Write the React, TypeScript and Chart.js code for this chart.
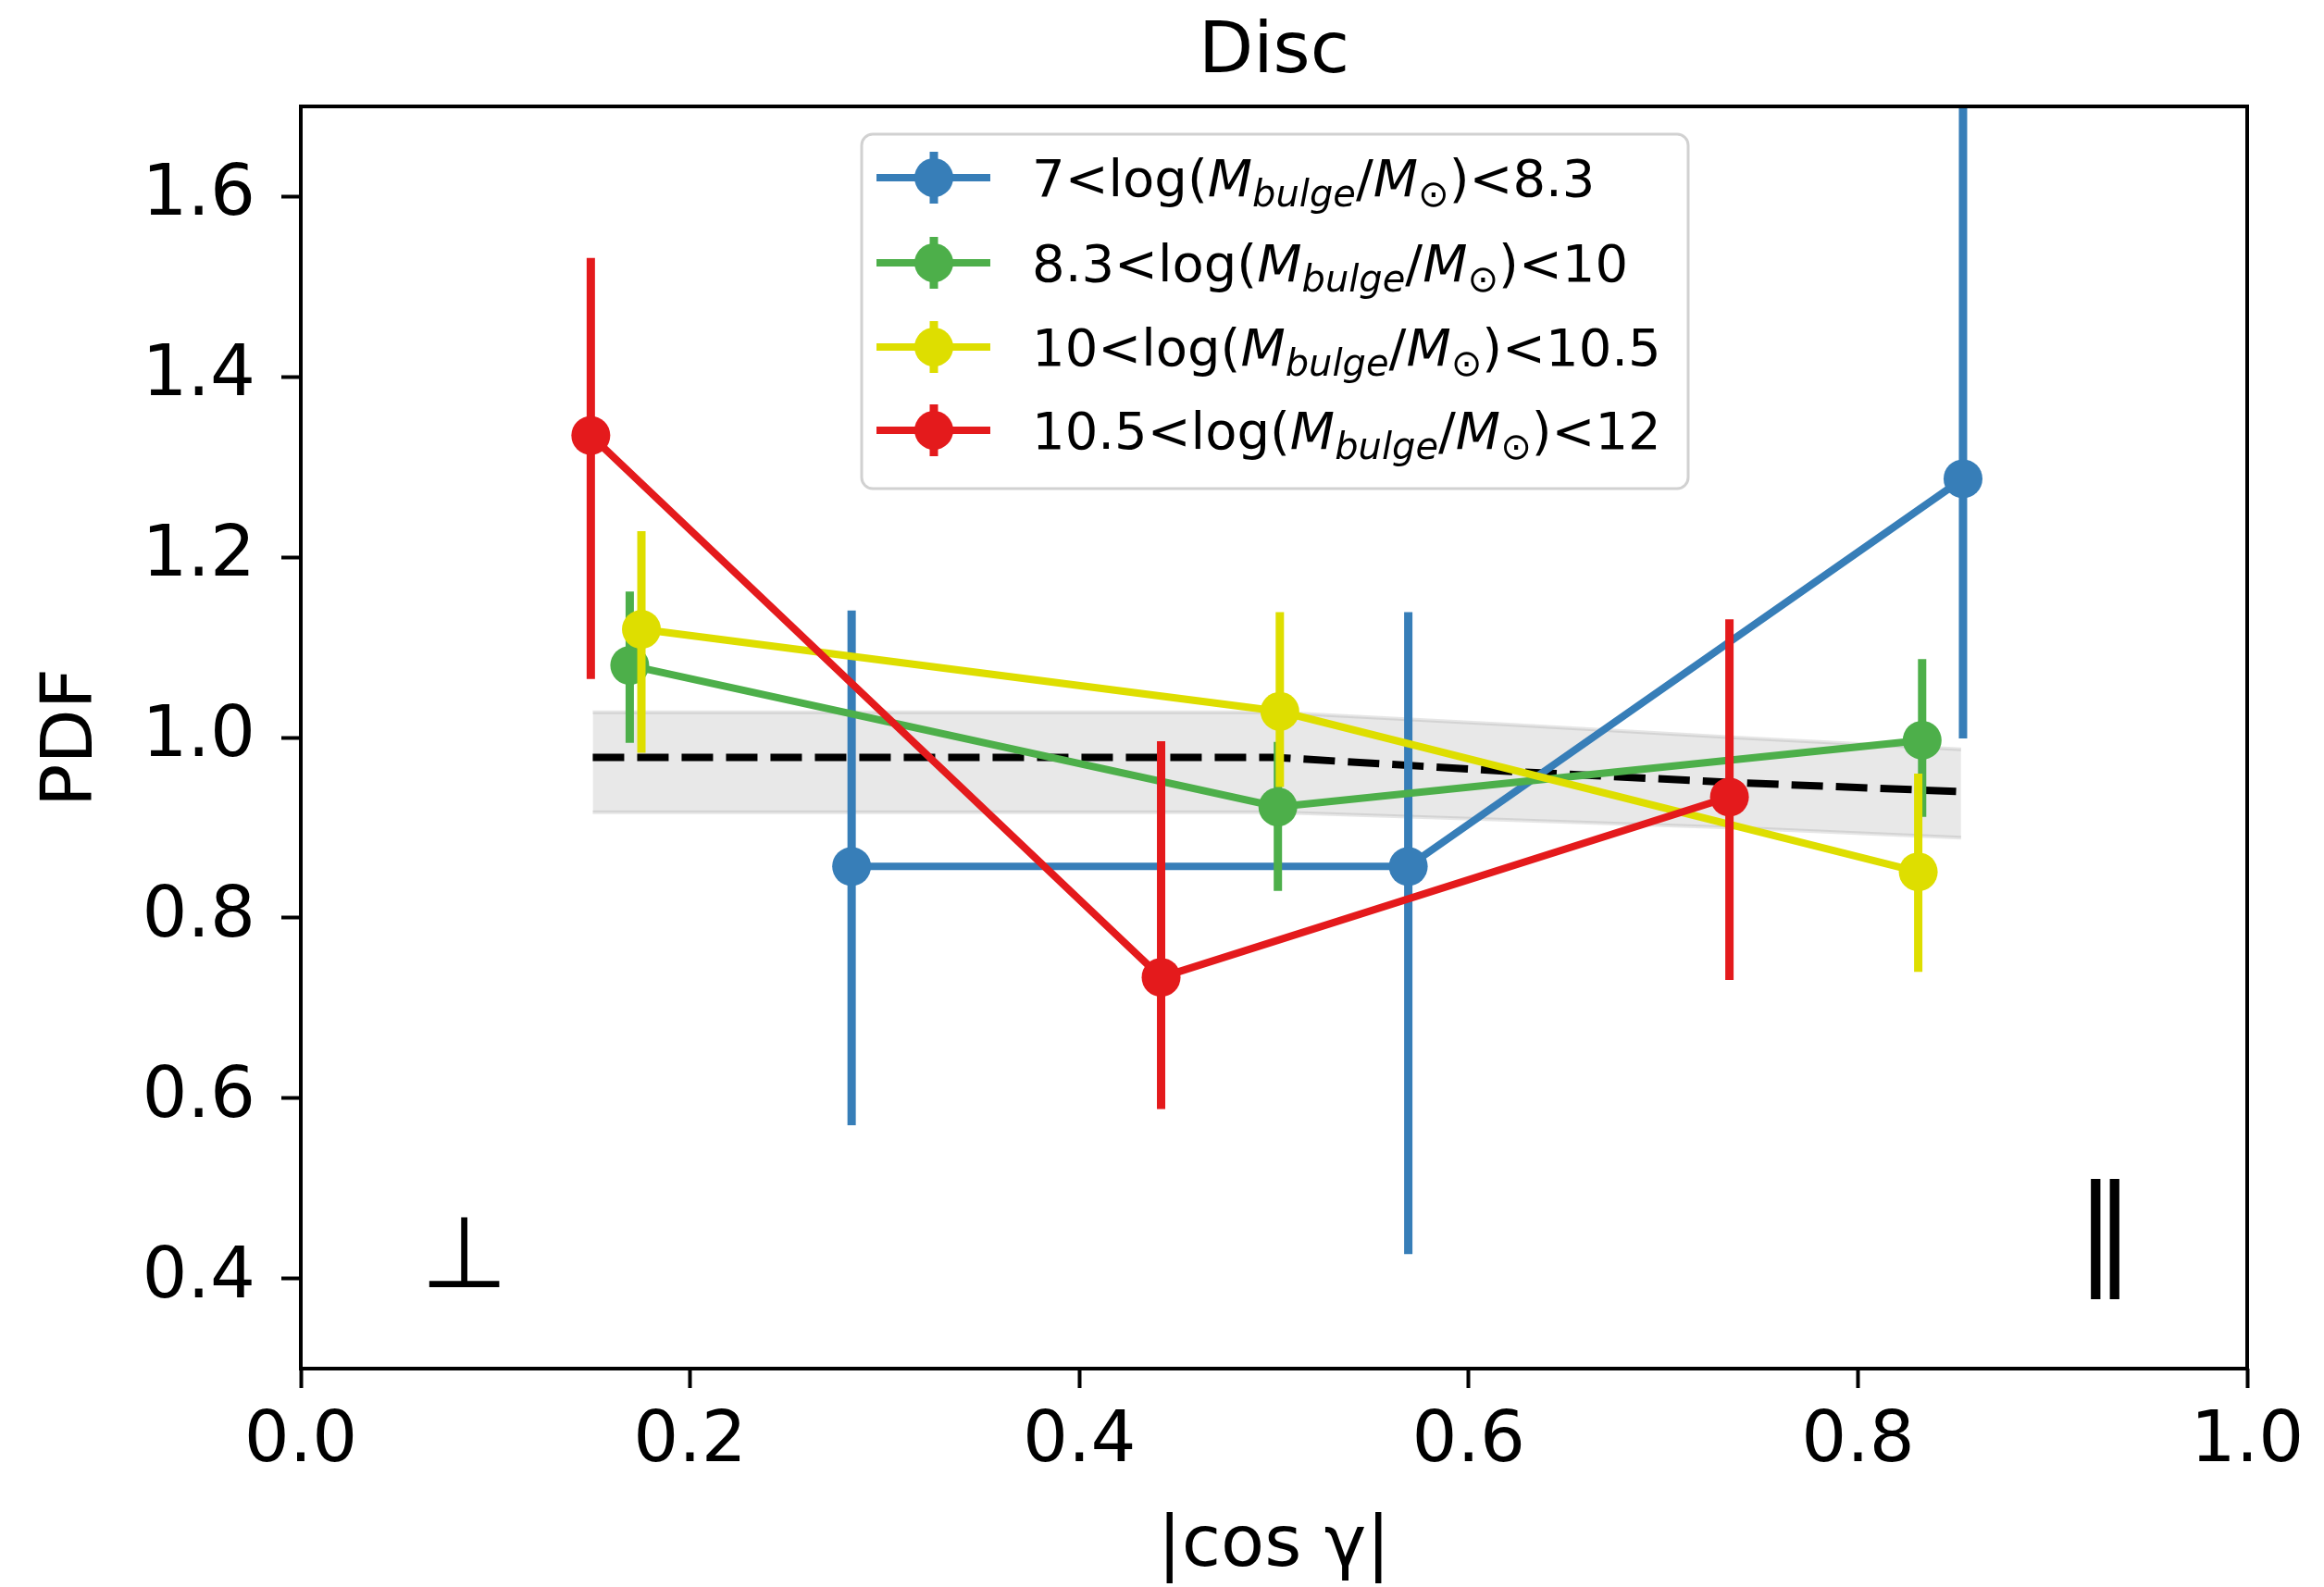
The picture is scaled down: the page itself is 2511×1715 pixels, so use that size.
import React, { useEffect, useRef } from "react";
import { Chart, registerables } from "chart.js";

Chart.register(...registerables);

const W = 2511;
const H = 1715;
const FONT = "'DejaVu Sans', 'Liberation Sans', sans-serif";

// ---------- data ----------
const titleText = "Disc";
const xLabel = "|cos γ|";
const yLabel = "PDF";

const xTicks = [0.0, 0.2, 0.4, 0.6, 0.8, 1.0];
const yTicks = [0.4, 0.6, 0.8, 1.0, 1.2, 1.4, 1.6];

const massLo = ["7", "8.3", "10", "10.5"];
const massHi = ["8.3", "10", "10.5", "12"];
const seriesColors = ["#377eb8", "#4daf4a", "#dede00", "#e41a1c"];

const blueX = [0.283, 0.569, 0.854];
const blueY = [0.857, 0.857, 1.287];
const blueLo = [0.570, 0.427, 0.999];
const blueHi = [1.141, 1.139, 1.75];

const greenX = [0.169, 0.502, 0.833];
const greenY = [1.080, 0.923, 0.997];
const greenLo = [0.994, 0.830, 0.912];
const greenHi = [1.162, 0.995, 1.087];

const yellowX = [0.175, 0.503, 0.831];
const yellowY = [1.120, 1.029, 0.851];
const yellowLo = [0.983, 0.945, 0.740];
const yellowHi = [1.229, 1.139, 0.960];

const redX = [0.149, 0.442, 0.734];
const redY = [1.335, 0.734, 0.934];
const redLo = [1.065, 0.588, 0.731];
const redHi = [1.532, 0.996, 1.131];

const modelX = [0.15, 0.5, 0.616, 0.737, 0.853];
const modelY = [0.978, 0.978, 0.963, 0.950, 0.940];
const bandTop = [1.028, 1.028, 1.015, 1.000, 0.987];
const bandBottom = [0.917, 0.917, 0.909, 0.900, 0.889];

const symbolTexts = ["⊥", "∥"];
const symbolX = [0.084, 0.927];
const symbolY = [0.429, 0.443];
const symbolSizes = [108, 132];

// ---------- helpers ----------
const pts = (xs: number[], ys: number[]) => xs.map((x, i) => ({ x, y: ys[i] }));

const seriesX = [blueX, greenX, yellowX, redX];
const seriesY = [blueY, greenY, yellowY, redY];
const seriesLo = [blueLo, greenLo, yellowLo, redLo];
const seriesHi = [blueHi, greenHi, yellowHi, redHi];

const LINE_W = 8;
const ERR_W = 9;
const MARKER_R = 21;

const errorBarPlugin = {
  id: "errorBars",
  beforeDatasetDraw(chart: any, args: any) {
    const ds = chart.data.datasets[args.index];
    if (!ds.errLo) return;
    const { ctx, chartArea, scales } = chart;
    const xs = scales.x, ys = scales.y;
    ctx.save();
    ctx.beginPath();
    ctx.rect(chartArea.left, chartArea.top, chartArea.right - chartArea.left, chartArea.bottom - chartArea.top);
    ctx.clip();
    ctx.strokeStyle = ds.borderColor;
    ctx.lineWidth = ERR_W;
    ctx.lineCap = "butt";
    ds.data.forEach((p: any, i: number) => {
      const px = xs.getPixelForValue(p.x);
      ctx.beginPath();
      ctx.moveTo(px, ys.getPixelForValue(ds.errLo[i]));
      ctx.lineTo(px, ys.getPixelForValue(ds.errHi[i]));
      ctx.stroke();
    });
    ctx.restore();
  },
};

const framePlugin = {
  id: "frame",
  afterDatasetsDraw(chart: any) {
    const { ctx, chartArea } = chart;
    ctx.save();
    ctx.strokeStyle = "#000";
    ctx.lineWidth = 4;
    ctx.strokeRect(chartArea.left, chartArea.top, chartArea.right - chartArea.left, chartArea.bottom - chartArea.top);
    ctx.restore();
  },
};

function drawLegendLabel(ctx: CanvasRenderingContext2D, x: number, baseline: number, lo: string, hi: string) {
  const main = `56px ${FONT}`;
  const ital = `italic 56px ${FONT}`;
  const subI = `italic 40px ${FONT}`;
  const subU = `40px ${FONT}`;
  const parts = [
    { t: `${lo}<log(`, f: main, dy: 0 },
    { t: "M", f: ital, dy: 0 },
    { t: "bulge", f: subI, dy: 11 },
    { t: "/", f: main, dy: 0 },
    { t: "M", f: ital, dy: 0 },
    { t: "⊙", f: subU, dy: 11 },
    { t: `)<${hi}`, f: main, dy: 0 },
  ];
  let cx = x;
  for (const p of parts) {
    ctx.font = p.f;
    ctx.fillText(p.t, cx, baseline + p.dy);
    cx += ctx.measureText(p.t).width;
  }
}

const overlayPlugin = {
  id: "overlay",
  afterDraw(chart: any) {
    const { ctx, chartArea, scales } = chart;
    const xs = scales.x, ys = scales.y;
    ctx.save();
    // title
    ctx.fillStyle = "#000";
    ctx.font = `77px ${FONT}`;
    ctx.textAlign = "center";
    ctx.textBaseline = "middle";
    ctx.fillText(titleText, (chartArea.left + chartArea.right) / 2, chartArea.top - 57);

    // symbols
    symbolTexts.forEach((t, i) => {
      ctx.font = `${symbolSizes[i]}px ${FONT}`;
      ctx.textAlign = "center";
      ctx.textBaseline = "alphabetic";
      const m = ctx.measureText(t);
      const cy = ys.getPixelForValue(symbolY[i]);
      const by = cy + (m.actualBoundingBoxAscent - m.actualBoundingBoxDescent) / 2;
      ctx.fillText(t, xs.getPixelForValue(symbolX[i]), by);
    });

    // legend
    const bx = chartArea.left + 606;
    const by = chartArea.top + 30;
    const bw = 893;
    const bh = 383;
    ctx.beginPath();
    ctx.roundRect(bx, by, bw, bh, 12);
    ctx.fillStyle = "rgba(255,255,255,0.8)";
    ctx.fill();
    ctx.strokeStyle = "rgba(204,204,204,0.9)";
    ctx.lineWidth = 3;
    ctx.stroke();
    const rowY = [47, 139, 230, 320];
    seriesColors.forEach((c, i) => {
      const y = by + rowY[i];
      ctx.strokeStyle = c;
      ctx.lineWidth = LINE_W;
      ctx.beginPath();
      ctx.moveTo(bx + 16, y);
      ctx.lineTo(bx + 139, y);
      ctx.stroke();
      ctx.lineWidth = ERR_W;
      ctx.beginPath();
      ctx.moveTo(bx + 78, y - 28);
      ctx.lineTo(bx + 78, y + 28);
      ctx.stroke();
      ctx.fillStyle = c;
      ctx.beginPath();
      ctx.arc(bx + 78, y, MARKER_R, 0, Math.PI * 2);
      ctx.fill();
      ctx.fillStyle = "#000";
      ctx.textAlign = "left";
      ctx.textBaseline = "alphabetic";
      drawLegendLabel(ctx, bx + 184, y + 20, massLo[i], massHi[i]);
    });
    ctx.restore();
  },
};

const bgPlugin = {
  id: "bg",
  beforeDraw(chart: any) {
    const { ctx } = chart;
    ctx.save();
    ctx.fillStyle = "#fff";
    ctx.fillRect(0, 0, chart.width, chart.height);
    ctx.restore();
  },
};

export default function App() {
  const ref = useRef<HTMLCanvasElement>(null);
  useEffect(() => {
    const seriesDatasets = seriesColors.map((c, i) => ({
      label: `${massLo[i]}<log(M_bulge/M_⊙)<${massHi[i]}`,
      data: pts(seriesX[i], seriesY[i]),
      errLo: seriesLo[i],
      errHi: seriesHi[i],
      borderColor: c,
      backgroundColor: c,
      borderWidth: LINE_W,
      pointRadius: MARKER_R,
      pointBorderWidth: 0,
      pointBackgroundColor: c,
      tension: 0,
      fill: false,
      order: 4 - i,
    }));
    const datasets: any[] = [
      ...seriesDatasets,
      {
        label: "model",
        data: pts(modelX, modelY),
        borderColor: "#000",
        borderWidth: 8,
        borderDash: [34, 14],
        pointRadius: 0,
        fill: false,
        order: 5,
      },
      {
        label: "band top",
        data: pts(modelX, bandTop),
        borderColor: "rgba(128,128,128,0.2)",
        borderWidth: 4,
        backgroundColor: "rgba(128,128,128,0.18)",
        pointRadius: 0,
        fill: "+1",
        order: 6,
      },
      {
        label: "band bottom",
        data: pts(modelX, bandBottom),
        borderColor: "rgba(128,128,128,0.2)",
        borderWidth: 4,
        pointRadius: 0,
        fill: false,
        order: 7,
      },
    ];
    const tickFont = { family: FONT, size: 77, lineHeight: 1.2 };
    const chart = new Chart(ref.current as HTMLCanvasElement, {
      type: "line",
      data: { datasets },
      options: {
        animation: false,
        responsive: false,
        devicePixelRatio: 1,
        events: [],
        layout: { padding: { left: 0, right: 83, top: 115, bottom: 0 } },
        plugins: {
          legend: { display: false },
          tooltip: { enabled: false },
          title: { display: false },
        },
        scales: {
          x: {
            type: "linear",
            min: 0,
            max: 1,
            afterBuildTicks: (s: any) => {
              s.ticks = xTicks.map((value) => ({ value }));
            },
            afterFit: (s: any) => {
              s.height = 236;
            },
            ticks: {
              color: "#000",
              font: tickFont,
              padding: 13,
              maxRotation: 0,
              autoSkip: false,
              callback: (v: any) => Number(v).toFixed(1),
            },
            grid: {
              display: true,
              drawOnChartArea: false,
              drawTicks: true,
              tickLength: 21,
              tickWidth: 4,
              tickColor: "#000",
            },
            border: { display: false },
            title: {
              display: true,
              text: xLabel,
              color: "#000",
              font: { family: FONT, size: 77, lineHeight: 1.1 },
              padding: { top: 0, bottom: 1 },
            },
          },
          y: {
            type: "linear",
            min: 0.3,
            max: 1.7,
            afterBuildTicks: (s: any) => {
              s.ticks = yTicks.map((value) => ({ value }));
            },
            afterFit: (s: any) => {
              s.width = 325;
            },
            ticks: {
              color: "#000",
              font: tickFont,
              padding: 28,
              autoSkip: false,
              callback: (v: any) => Number(v).toFixed(1),
            },
            grid: {
              display: true,
              drawOnChartArea: false,
              drawTicks: true,
              tickLength: 21,
              tickWidth: 4,
              tickColor: "#000",
            },
            border: { display: false },
            title: {
              display: true,
              text: yLabel,
              color: "#000",
              font: { family: FONT, size: 77, lineHeight: 1.2 },
              padding: { top: 33, bottom: 0 },
            },
          },
        },
      } as any,
      plugins: [bgPlugin, errorBarPlugin, framePlugin, overlayPlugin],
    });
    return () => chart.destroy();
  }, []);
  return (
    <div style={{ position: "fixed", left: 0, top: 0, width: W, height: H, background: "#fff" }}>
      <canvas ref={ref} width={W} height={H} style={{ width: W, height: H, display: "block" }} />
    </div>
  );
}
